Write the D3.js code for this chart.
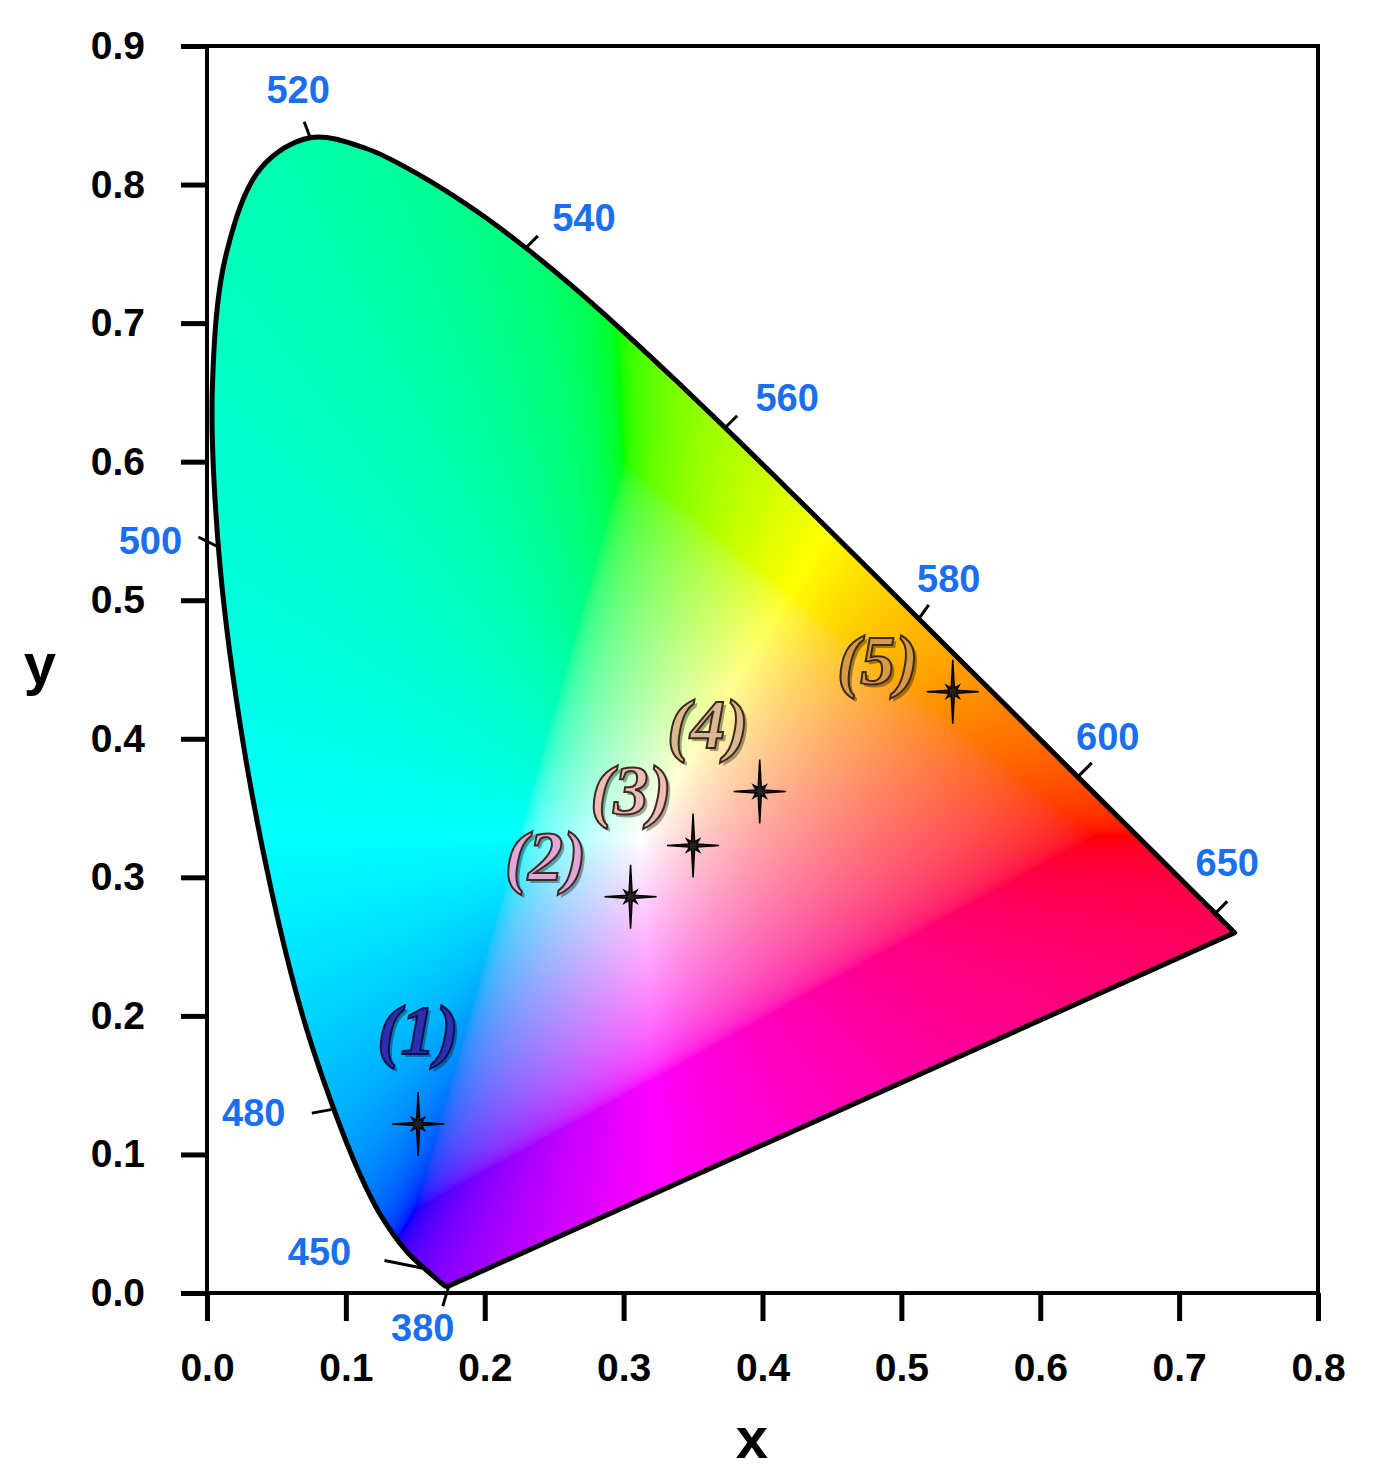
<!DOCTYPE html>
<html><head><meta charset="utf-8">
<script src="https://cdn.jsdelivr.net/npm/d3@7"></script>
<style>body{margin:0;background:#fff}svg{display:block}</style>
</head><body>
<svg id="c" width="1376" height="1481"></svg>
<script>
// Spectral locus (CIE 1931) wavelengths and chromaticities
const locusWl = [380,400,420,440,450,460,470,475,480,485,490,495,500,505,510,515,520,525,530,535,540,545,550,555,560,565,570,575,580,585,590,595,600,610,620,630,640,650,660,700];
const locusX = [0.1741,0.1733,0.1714,0.1644,0.1566,0.1440,0.1241,0.1096,0.0913,0.0687,0.0454,0.0235,0.0082,0.0039,0.0139,0.0389,0.0743,0.1142,0.1547,0.1929,0.2296,0.2658,0.3016,0.3373,0.3731,0.4087,0.4441,0.4788,0.5125,0.5448,0.5752,0.6029,0.6270,0.6658,0.6915,0.7079,0.7190,0.7260,0.7300,0.7400];
const locusY = [0.0050,0.0048,0.0051,0.0109,0.0177,0.0297,0.0578,0.0868,0.1327,0.2007,0.2950,0.4127,0.5384,0.6548,0.7502,0.8120,0.8338,0.8262,0.8059,0.7816,0.7543,0.7243,0.6923,0.6589,0.6245,0.5896,0.5547,0.5202,0.4866,0.4544,0.4242,0.3965,0.3725,0.3340,0.3083,0.2920,0.2809,0.2740,0.2700,0.2600];
// labelled wavelengths
const wlLabels = [520,540,560,580,600,650,500,480,450,380];
// samples
const sampleNames = ["(1)","(2)","(3)","(4)","(5)"];
const sampleX = [0.152,0.305,0.350,0.398,0.537];
const sampleY = [0.122,0.286,0.323,0.362,0.434];
const sampleColors = ["#2b2fb0","#e2a6dc","#eebcb4","#dcb890","#d99a45"];
const xTicks = [0,0.1,0.2,0.3,0.4,0.5,0.6,0.7,0.8];
const yTicks = [0,0.1,0.2,0.3,0.4,0.5,0.6,0.7,0.8,0.9];

const X = d3.scaleLinear([0,0.8],[207,1318]);
const Y = d3.scaleLinear([0,0.9],[1293,46]);
const svg = d3.select("#c");
const pts = locusX.map((x,i)=>[X(x),Y(locusY[i])]);

// gradient fill rendered on canvas
const x0=207,y0=46,w=1111,h=1247;
const cv=document.createElement("canvas");cv.width=w;cv.height=h;
const ctx=cv.getContext("2d");const img=ctx.createImageData(w,h);
const g=v=>v<=0.0031308?12.92*v:1.055*Math.pow(v,1/2.4)-0.055;
for(let j=0;j<h;j++){const cy=Y.invert(y0+j+0.5);if(cy<=0.001)continue;
 for(let i=0;i<w;i++){const cx=X.invert(x0+i+0.5);
  const Xc=cx/cy,Zc=(1-cx-cy)/cy;
  let r=3.2406*Xc-1.5372-0.4986*Zc, gg=-0.9689*Xc+1.8758+0.0415*Zc, b=0.0557*Xc-0.2040+1.0570*Zc;
  const mn=Math.min(r,gg,b); if(mn<0){r-=mn;gg-=mn;b-=mn;}
  const m=Math.max(r,gg,b)||1;
  const k=(j*w+i)*4;img.data[k]=255*g(r/m);img.data[k+1]=255*g(gg/m);img.data[k+2]=255*g(b/m);img.data[k+3]=255;}}
ctx.putImageData(img,0,0);
const locD=d3.line().curve(d3.curveCatmullRom)(pts)+"Z";
svg.append("clipPath").attr("id","loc").append("path").attr("d",locD);
svg.append("image").attr("x",x0).attr("y",y0).attr("width",w).attr("height",h)
  .attr("href",cv.toDataURL()).attr("clip-path","url(#loc)");
svg.append("path").attr("d",locD)
  .attr("fill","none").attr("stroke","#000").attr("stroke-width",5).attr("stroke-linejoin","round");

// frame
svg.append("rect").attr("x",X(0)).attr("y",Y(0.9)).attr("width",X(0.8)-X(0)).attr("height",Y(0)-Y(0.9))
 .attr("fill","none").attr("stroke","#000").attr("stroke-width",4);
const ax=svg.append("g").attr("transform",`translate(0,${Y(0)})`).call(d3.axisBottom(X).tickValues(xTicks).tickFormat(d3.format(".1f")).tickSize(28).tickPadding(40));
const ay=svg.append("g").attr("transform",`translate(${X(0)},0)`).call(d3.axisLeft(Y).tickValues(yTicks).tickFormat(d3.format(".1f")).tickSize(26).tickPadding(36));
[ax,ay].forEach(a=>{a.select(".domain").remove();a.selectAll("line").attr("stroke","#000").attr("stroke-width",5);
 a.selectAll("text").attr("font-family","Liberation Sans, Arial").attr("font-weight","bold").attr("font-size",39).attr("fill","#000");});
ax.selectAll("text").attr("dy","0.5em");
svg.append("text").attr("x",752).attr("y",1458).attr("text-anchor","middle").attr("font-family","Liberation Sans, Arial").attr("font-weight","bold").attr("font-size",58).text("x");
svg.append("text").attr("x",40).attr("y",684).attr("text-anchor","middle").attr("font-family","Liberation Sans, Arial").attr("font-weight","bold").attr("font-size",58).text("y");

// wavelength labels: label offset (dx,dy) and tick end (dx,dy) in px
const lblOff={520:[-12,-48,-6,-16],540:[58,-30,12,-12],560:[62,-30,12,-12],580:[30,-40,10,-14],600:[30,-40,14,-14],650:[12,-50,12,-12],500:[-68,-6,-20,-10],480:[-80,4,-22,4],450:[-105,-16,-40,-8],380:[-26,42,-6,20]};
wlLabels.forEach(wl=>{const i=locusWl.indexOf(wl);const [px,py]=pts[i];const o=lblOff[wl];
 svg.append("line").attr("x1",px).attr("y1",py).attr("x2",px+o[2]).attr("y2",py+o[3]).attr("stroke","#000").attr("stroke-width",3);
 svg.append("text").attr("x",px+o[0]).attr("y",py+o[1]+13).attr("text-anchor","middle")
  .attr("font-family","Liberation Sans, Arial").attr("font-weight","bold").attr("font-size",38).attr("fill","#1a6ff0").text(wl);});

// star markers
function star(){const a=[];const R=[32,9,26,9,32,9,26,9];for(let k=0;k<16;k++){const ang=k*Math.PI/8;const r=k%2?4:R[k/2];a.push([r*Math.sin(ang),-r*Math.cos(ang)]);}return "M"+a.join("L")+"Z";}
sampleX.forEach((sx,i)=>{svg.append("path").attr("d",star()).attr("transform",`translate(${X(sx)},${Y(sampleY[i])})`)
 .attr("fill","#2a2020").attr("stroke","#000").attr("stroke-width",1.5);
 const lx=[0,-85,-62,-52,-75][i], ly=[-70,-17,-31,-43,-8][i];
 svg.append("text").attr("x",X(sx)+lx+3).attr("y",Y(sampleY[i])+ly+3).attr("text-anchor","middle")
  .attr("font-family","Liberation Serif, Times New Roman").attr("font-style","italic").attr("font-weight","bold").attr("font-size",70)
  .attr("fill","rgba(0,0,0,0.35)").text(sampleNames[i]);
 svg.append("text").attr("x",X(sx)+lx).attr("y",Y(sampleY[i])+ly).attr("text-anchor","middle")
  .attr("font-family","Liberation Serif, Times New Roman").attr("font-style","italic").attr("font-weight","bold").attr("font-size",70)
  .attr("fill",sampleColors[i]).attr("stroke",i==0?"#10104a":"#3a2a20").attr("stroke-width",2).text(sampleNames[i]);});
</script></body></html>
